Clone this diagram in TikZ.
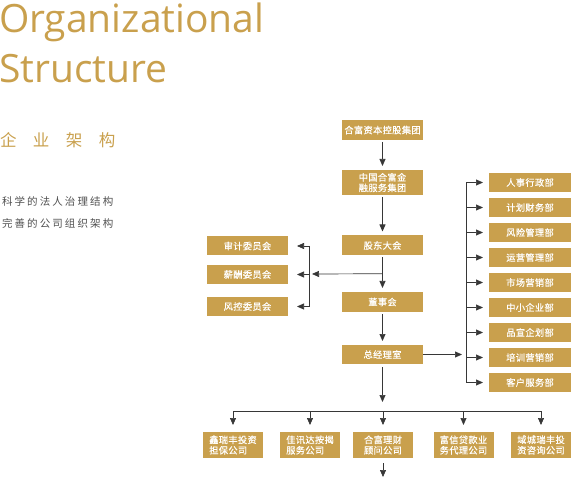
\documentclass[tikz,border=0pt]{standalone}
\usepackage{fontspec}
\usepackage{tikz}
\usetikzlibrary{arrows.meta, positioning, calc}
\setmainfont{Open Sans}
\newfontfamily\cjkwide{Noto Sans CJK SC}[LetterSpace=100]
\newfontfamily\cjkdesc{Noto Sans CJK SC}[LetterSpace=20]
\newfontfamily\cjkbox{Noto Sans CJK SC}[LetterSpace=4, FakeBold=0.6]
\definecolor{gold}{RGB}{201,160,77}
\definecolor{linegray}{RGB}{55,55,55}
\definecolor{descgray}{RGB}{80,80,80}

\begin{document}
\begin{tikzpicture}[x=1pt, y=-1pt, every node/.style={outer sep=0pt},
    box/.style={fill=gold, text=white, inner sep=0pt, minimum width=81pt, minimum height=20pt,
        font=\cjkbox\fontsize{9.2}{10.5}\selectfont},
    wire/.style={draw=linegray, line width=0.7pt},
    link/.style={wire, -{Triangle[length=7pt, width=6pt]}}]
    \useasboundingbox (0,0) rectangle (571,500);

    % Heading
    \node[anchor=base west, inner sep=0pt, text=gold, font=\fontsize{39}{39}\selectfont] (title1) at (-1,33) {Organizational};
    \node[anchor=base west, inner sep=0pt, text=gold, font=\fontsize{39}{39}\selectfont] (title2) at (-1,83) {Structure};
    \node[anchor=base west, inner sep=0pt, text=gold, font=\cjkwide\fontsize{16.5}{16.5}\selectfont] (subtitle) at (0,146.5) {企业架构};
    \node[anchor=base west, inner sep=0pt, text=descgray, font=\cjkdesc\fontsize{10.5}{10.5}\selectfont] (desc1) at (2,205.3) {科学的法人治理结构};
    \node[anchor=base west, inner sep=0pt, text=descgray, font=\cjkdesc\fontsize{10.5}{10.5}\selectfont] (desc2) at (2,227.3) {完善的公司组织架构};

    % Main column
    \node[box] (holding) at (382.5,130) {合富资本控股集团};
    \node[box, minimum height=25pt, align=center] (group) at (382.5,182.5) {中国合富金\\融服务集团};
    \node[box] (meeting) at (382.5,245.5) {股东大会};
    \node[box] (board) at (382.5,302) {董事会};
    \node[box, minimum height=19pt] (office) at (382.5,354.5) {总经理室};

    % Committees
    \node[box, minimum height=19pt] (audit) at (247.5,246) {审计委员会};
    \node[box, minimum height=19pt] (salary) at (247.5,274.5) {薪酬委员会};
    \node[box, minimum height=19pt] (risk) at (247.5,306.5) {风控委员会};

    % Departments
    \foreach \name [count=\i] in {人事行政部, 计划财务部, 风险管理部, 运营管理部, 市场营销部, 中小企业部, 品宣企划部, 培训营销部, 客户服务部}
        \node[box, minimum width=82pt, minimum height=19pt] (dept\i) at (530,157.5+25*\i) {\name};

    % Companies
    \node[box, minimum width=60pt, minimum height=26pt, align=left] (co1) at (233,445) {鑫瑞丰投资\\担保公司};
    \node[box, minimum width=60pt, minimum height=26pt, align=left] (co2) at (310,445) {佳讯达按揭\\服务公司};
    \node[box, minimum width=60pt, minimum height=26pt, align=left] (co3) at (383,445) {合富理财\\顾问公司};
    \node[box, minimum width=60pt, minimum height=26pt, align=left] (co4) at (463.5,445) {富信贷款业\\务代理公司};
    \node[box, minimum width=60pt, minimum height=26pt, align=left] (co5) at (541,445) {域城瑞丰投\\资咨询公司};

    % Junctions
    \coordinate (split) at ($(meeting.south)!0.5!(board.north)$);
    \coordinate (cbar) at (309,274);
    \coordinate (dbar) at (466,354.5);
    \coordinate (hbar) at (0,411);
    \coordinate[below=19pt of co3.south] (tail);

    % Main arrows
    \draw[link, shorten <=2pt, shorten >=4pt] (holding.south) -- (group.north);
    \draw[link, shorten <=2pt, shorten >=4pt] (group.south) -- (meeting.north);
    \draw[link, shorten <=2pt, shorten >=4pt] (meeting.south) -- (board.north);
    \draw[link, shorten <=2pt, shorten >=4pt] (board.south) -- (office.north);

    % Committee branch
    \draw[link, shorten >=3pt] (split) -- (cbar);
    \draw[wire] (cbar |- audit) -- (cbar |- risk);
    \foreach \c in {audit, salary, risk}
        \draw[link, shorten >=9pt] (cbar |- \c) -- (\c.east);

    % Department branch
    \draw[link, shorten >=4pt] (office.east) -- (dbar);
    \draw[wire] (dbar |- dept1) -- (dbar |- dept9);
    \foreach \i in {1,...,9}
        \draw[link, shorten >=6pt] (dbar |- dept\i) -- (dept\i.west);

    % Company branch
    \draw[link, shorten <=3pt, shorten >=9pt] (office.south) -- (office |- hbar);
    \draw[wire] (co1 |- hbar) -- (co5 |- hbar);
    \foreach \i in {1,...,5}
        \draw[link, shorten >=7pt] (co\i |- hbar) -- (co\i.north);
    \draw[link, shorten <=5pt] (co3.south) -- (tail);
\end{tikzpicture}
\end{document}
